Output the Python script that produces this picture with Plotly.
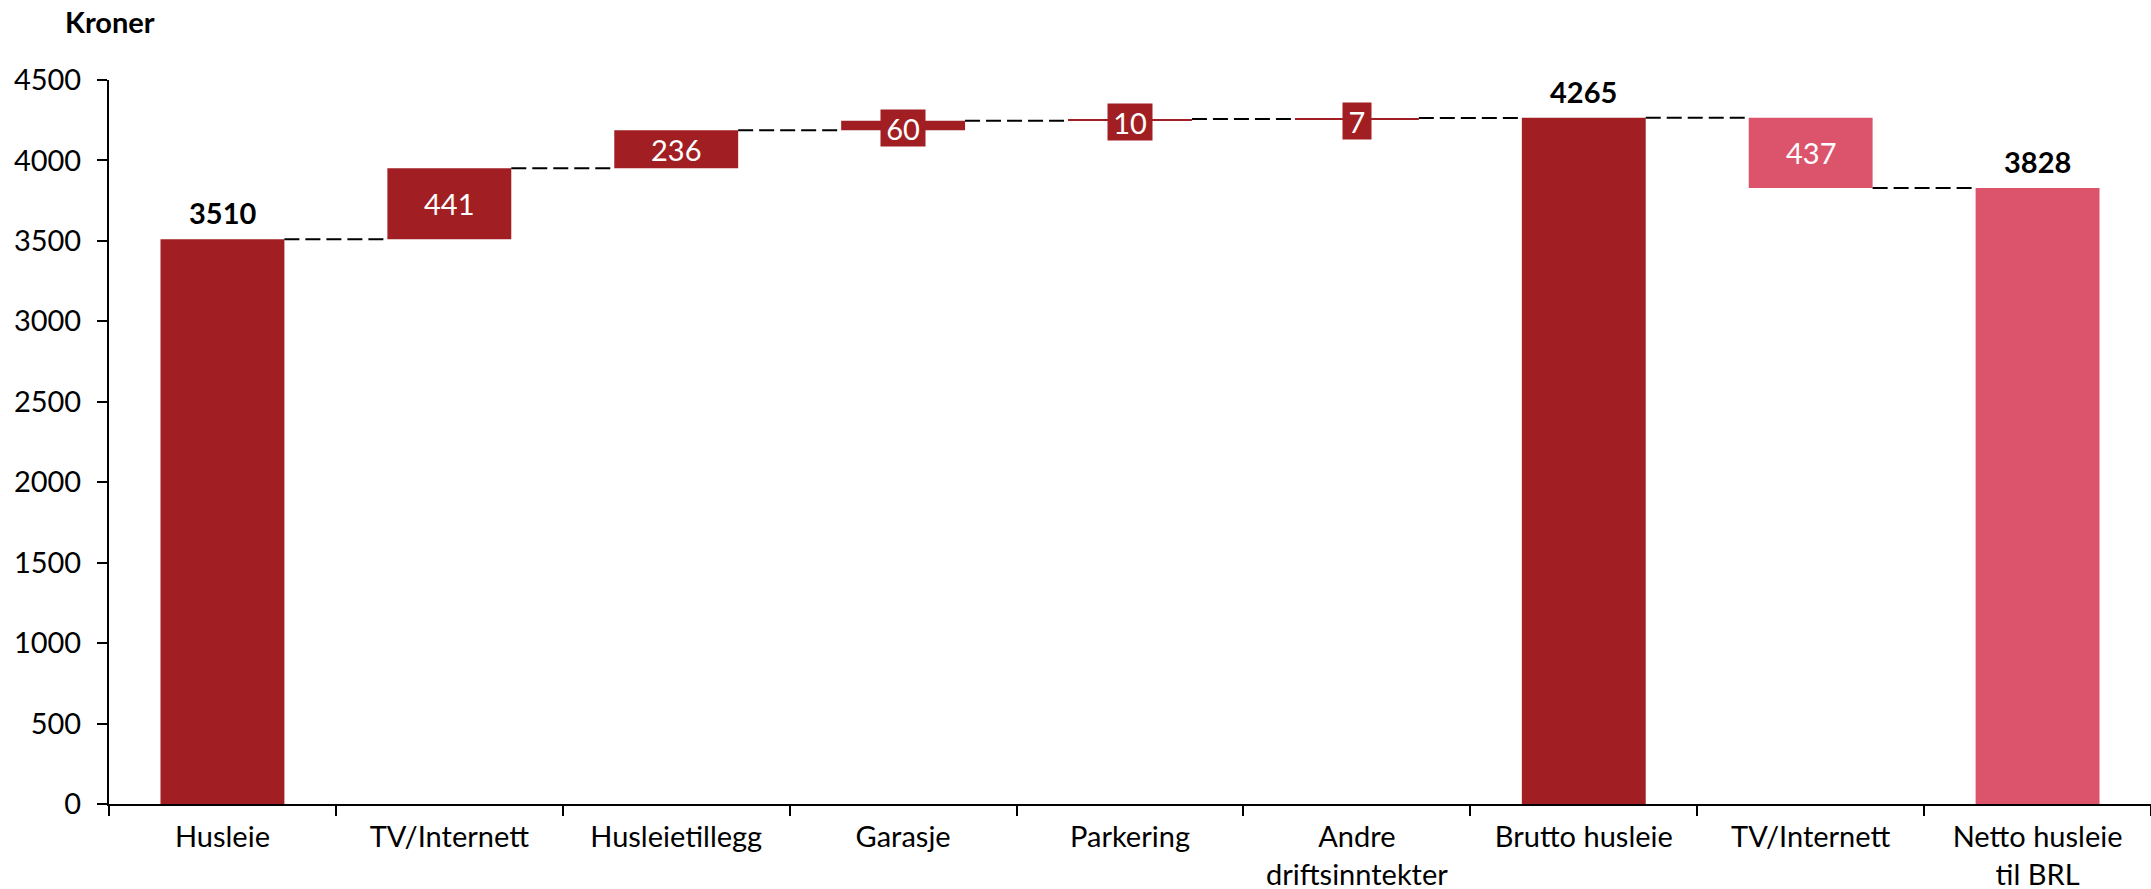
import plotly.graph_objects as go

# ---- data ----
labels = ["Husleie", "TV/Internett", "Husleietillegg", "Garasje", "Parkering",
          "Andre<br>driftsinntekter", "Brutto husleie", "TV/Internett",
          "Netto husleie<br>til BRL"]
values = [3510, 441, 236, 60, 10, 7, 4265, -437, 3828]
kinds = ["total", "delta", "delta", "delta", "delta", "delta", "total", "delta", "total"]
y_ticks = [0, 500, 1000, 1500, 2000, 2500, 3000, 3500, 4000, 4500]
y_title = "Kroner"

# ---- style ----
DARK = "rgb(161,31,34)"
PINK = "rgb(220,84,108)"
FONT = "Lato"
FS = 29
colors = [DARK] * 7 + [PINK] * 2
bar_w = 0.546

# unique category keys (duplicate label TV/Internett)
cats = [lab + " " * i for i, lab in enumerate(labels)]

bases, heights, ends = [], [], []
run = 0
for v, k in zip(values, kinds):
    if k == "total":
        bases.append(0)
        heights.append(v)
        run = v
    else:
        if v >= 0:
            bases.append(run)
            heights.append(v)
        else:
            bases.append(run + v)
            heights.append(-v)
        run = run + v
    ends.append(run)

fig = go.Figure()
fig.add_trace(go.Bar(
    x=cats, y=heights, base=bases,
    marker=dict(color=colors, line=dict(width=0)),
    width=bar_w, hoverinfo="skip",
))

# connectors
for i in range(len(values) - 1):
    fig.add_shape(type="line", xref="x", yref="y",
                  x0=i + bar_w / 2, x1=i + 1 - bar_w / 2,
                  y0=ends[i], y1=ends[i],
                  line=dict(color="black", width=2, dash="15px,6px"))

# labels
for i, (v, k) in enumerate(zip(values, kinds)):
    txt = "%d" % abs(v)
    if k == "total":
        fig.add_annotation(x=i, y=bases[i] + heights[i], xref="x", yref="y",
                           text="<b>%s</b>" % txt, showarrow=False,
                           yanchor="bottom", yshift=7,
                           font=dict(family=FONT, size=FS, color="black"))
    elif heights[i] < 100:
        fig.add_annotation(x=i, y=bases[i] + heights[i] / 2, xref="x", yref="y",
                           text=txt, showarrow=False, yanchor="middle",
                           yshift=-2, bgcolor=colors[i], borderpad=0,
                           width=16 * len(txt) + 12, height=36,
                           font=dict(family=FONT, size=FS, color="white"))
    else:
        fig.add_annotation(x=i, y=bases[i] + heights[i] / 2, xref="x", yref="y",
                           text=txt, showarrow=False, yanchor="middle",
                           font=dict(family=FONT, size=FS, color="white"))

fig.add_annotation(xref="paper", yref="paper", x=0, y=1, xanchor="left",
                   yanchor="middle", xshift=-46, yshift=59,
                   text="<b>%s</b>" % y_title, showarrow=False,
                   font=dict(family=FONT, size=FS, color="black"))

fig.update_layout(
    width=2151, height=889,
    margin=dict(l=109, r=0, t=80, b=85),
    paper_bgcolor="white", plot_bgcolor="white",
    showlegend=False,
    bargap=1 - bar_w,
    font=dict(family=FONT, size=FS, color="black"),
)
fig.update_xaxes(
    type="category", tickmode="array", tickvals=cats, ticktext=labels,
    tickson="boundaries", ticks="outside", ticklen=10, tickwidth=2,
    tickcolor="black", showline=True, linecolor="black", linewidth=2,
    showgrid=False, zeroline=False, ticklabelstandoff=6, automargin=False,
    tickfont=dict(family=FONT, size=FS, color="black"),
)
fig.update_yaxes(
    range=[0, 4500], tickmode="array", tickvals=y_ticks,
    ticks="outside", ticklen=10, tickwidth=2, tickcolor="black",
    showline=True, linecolor="black", linewidth=2,
    showgrid=False, zeroline=False, ticklabelstandoff=10, automargin=False,
    tickfont=dict(family=FONT, size=FS, color="black"),
)

fig.write_html("out.html", config={"displayModeBar": False},
               post_script="document.body.style.margin='0';document.body.style.overflow='hidden';")
